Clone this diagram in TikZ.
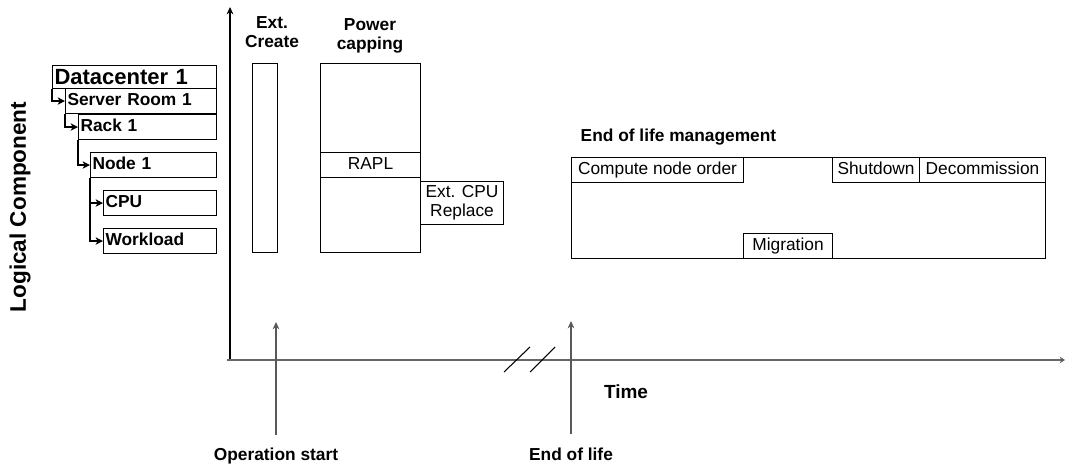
\documentclass[tikz,border=0pt]{standalone}
\usepackage{fontspec}
\setmainfont{Liberation Sans}
\usetikzlibrary{arrows.meta}
\def\u{0.75pt}
\tikzset{
  every node/.style={font=\fontsize{13}{15}\selectfont, text=black},
  hbox/.style={draw=black, line width=0.8pt, anchor=north west, inner xsep=2*\u, inner ysep=0pt, align=left, text height=9.3pt, text depth=2.2pt, font=\fontsize{13}{15}\selectfont\bfseries},
  cbox/.style={draw=black, line width=0.8pt, anchor=north west, inner sep=0pt, align=center},
  one/.style={text height=9.3pt, text depth=2.6pt},
  tree/.style={line width=0.9pt, -{Stealth[length=5.5pt, width=5.5pt, inset=1.5pt]}},
  bl/.style={font=\fontsize{13}{14.5}\selectfont\bfseries, align=center},
  garrow/.style={draw=black!65, line width=1.1pt, -{Stealth[length=5.5pt, width=5pt, fill=black]}},
}
\begin{document}
\begin{tikzpicture}[x=0.75pt, y=-0.75pt]
\useasboundingbox (0,0) rectangle (1066,466);

% hierarchy
\node[hbox, text width=160*\u, minimum height=23*\u, text height=12pt, text depth=0.5pt, font=\fontsize{16.5}{18}\selectfont\bfseries] (dc) at (52,65) {Datacenter 1};
\node[hbox, text width=147*\u, minimum height=25*\u] (sr) at (65,88) {Server Room 1};
\node[hbox, text width=134*\u, minimum height=25*\u] (rack) at (78,114) {Rack 1};
\node[hbox, text width=122*\u, minimum height=25*\u] (n1) at (90,152) {Node 1};
\node[hbox, text width=109*\u, minimum height=25*\u] (cpu) at (103,190) {CPU};
\node[hbox, text width=109*\u, minimum height=25*\u] (wl) at (103,228) {Workload};
\draw[tree] (dc.south west) |- (sr.west);
\draw[tree] (sr.south west) |- (rack.west);
\draw[tree] (rack.south west) |- (n1.west);
\draw[tree] (n1.south west) |- (cpu.west);
\draw[tree] (n1.south west) |- (wl.west);

\node[rotate=90, font=\fontsize{16.9}{18}\selectfont\bfseries] (lc) at (20,207) {Logical Component};

% axes
\coordinate (o) at (230,360);
\coordinate (ytop) at (230,7);
\coordinate (xl) at (227,360);
\coordinate (xr) at (1065,360);
\draw[line width=1pt, -{Stealth[length=5.5pt, width=5pt]}] (o) -- (ytop);
\draw[draw=black!60, line width=1.4pt, -{Stealth[length=4pt, width=5pt, fill=black]}] (xl) -- (xr);

% break marks
\coordinate (b1a) at (504,372); \coordinate (b1b) at (530,347);
\coordinate (b2a) at (530,372); \coordinate (b2b) at (555,347);
\draw[line width=0.8pt] (b1a) -- (b1b);
\draw[line width=0.8pt] (b2a) -- (b2b);

\node[font=\fontsize{14.25}{16}\selectfont\bfseries] (time) at (626,392) {Time};

% Ext. Create
\node[bl] (ecl) at (272,32) {Ext.\\Create};
\node[cbox, minimum width=25*\u, minimum height=189*\u] (ec) at (252,63) {};

% Power capping
\node[bl] (pcl) at (370,36) {Power\\capping};
\node[cbox, minimum width=100*\u, minimum height=189*\u] (pc) at (320,63) {};
\node[cbox, one, minimum width=100*\u, minimum height=25*\u] (rapl) at (320,152) {RAPL};
\node[cbox, minimum width=83*\u, minimum height=43*\u, font=\fontsize{13}{14.5}\selectfont] (ecr) at (420,181) {Ext. CPU\\Replace};

% End of life management
\node[font=\fontsize{13}{15}\selectfont\bfseries, anchor=west] (eolm) at (576,137) {End of life management};
\node[cbox, minimum width=474*\u, minimum height=101*\u] (eolbox) at (571,157) {};
\node[cbox, one, minimum width=172*\u, minimum height=25*\u] (cno) at (571,157) {Compute node order};
\node[cbox, one, minimum width=87*\u, minimum height=25*\u] (sd) at (832,157) {Shutdown};
\node[cbox, one, minimum width=126*\u, minimum height=25*\u] (dec) at (919,157) {Decommission};
\node[cbox, one, minimum width=89*\u, minimum height=25*\u] (mig) at (743,233) {Migration};

% events
\node[font=\fontsize{13}{15}\selectfont\bfseries, anchor=base] (os) at (276,460) {Operation start};
\node[font=\fontsize{13}{15}\selectfont\bfseries, anchor=base] (eol) at (571,460) {End of life};
\coordinate (osb) at (276,435); \coordinate (ost) at (276,322);
\coordinate (eolb) at (571,434); \coordinate (eolt) at (571,321);
\draw[garrow] (osb) -- (ost);
\draw[garrow] (eolb) -- (eolt);
\end{tikzpicture}
\end{document}
